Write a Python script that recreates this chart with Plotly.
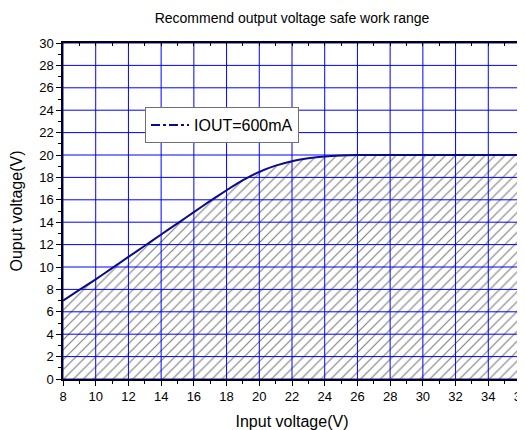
import plotly.graph_objects as go

# Data
vin = [8, 9, 10, 11, 12, 13, 14, 15, 16, 17, 18, 19, 20, 21, 22, 23, 24, 25, 26, 28, 30, 32, 34, 36]
vout = [7.0, 7.95, 8.9, 9.9, 10.9, 11.9, 12.9, 13.9, 14.9, 15.9, 16.85, 17.75, 18.5, 19.05,
        19.45, 19.7, 19.87, 19.96, 20.0, 20.0, 20.0, 20.0, 20.0, 20.0]
x_ticks = [8, 10, 12, 14, 16, 18, 20, 22, 24, 26, 28, 30, 32, 34, 36]
y_ticks = [0, 2, 4, 6, 8, 10, 12, 14, 16, 18, 20, 22, 24, 26, 28, 30]
series_name = "IOUT=600mA"
title_text = "Recommend output voltage safe work range"
x_title = "Input voltage(V)"
y_title = "Ouput voltage(V)"

FONT = "Arial, Liberation Sans, sans-serif"
LINE = "#0a0a8c"
GRID = "#0000FF"
W, H = 517, 422  # page body has an 8px margin

x_rng = [x_ticks[0], x_ticks[-1]]
y_rng = [y_ticks[0], y_ticks[-1]]

# grid lines built from the tick values so they can sit above the hatching
gx, gy = [], []
for v in x_ticks:
    gx += [v, v, None]
    gy += [y_rng[0], y_rng[1], None]
for v in y_ticks:
    gx += [x_rng[0], x_rng[1], None]
    gy += [v, v, None]

fig = go.Figure()
fig.add_trace(go.Scatter(
    x=vin, y=vout, mode="none", line=dict(shape="spline", smoothing=0.6),
    fill="tozeroy", fillcolor="rgba(0,0,0,0)",
    fillpattern=dict(shape="/", fgcolor="black", bgcolor="rgba(0,0,0,0)", size=7, solidity=0.17),
    showlegend=False, hoverinfo="skip"))
fig.add_trace(go.Scatter(x=gx, y=gy, mode="lines", line=dict(color=GRID, width=1),
                         showlegend=False, hoverinfo="skip"))
fig.add_trace(go.Scatter(
    x=vin, y=vout, mode="lines", line=dict(color=LINE, width=2, shape="spline", smoothing=0.6),
    showlegend=False, hoverinfo="skip"))
fig.add_trace(go.Scatter(
    x=[None], y=[None], mode="lines", name=series_name,
    line=dict(color=LINE, width=2, dash="dashdot")))
fig.add_trace(go.Scatter(x=[None], y=[None], xaxis="x2", yaxis="y2", showlegend=False))

axis_common = dict(showline=True, linecolor="black", linewidth=1.5, automargin=False,
                   tickfont=dict(family=FONT, size=13, color="black"),
                   showgrid=False, zeroline=False,
                   ticks="outside", ticklen=5, tickwidth=1, tickcolor="black")

fig.update_layout(
    width=W, height=H,
    margin=dict(l=55, r=4, t=35, b=51, autoexpand=False),
    paper_bgcolor="white", plot_bgcolor="white",
    title=dict(text=title_text, x=284 / W, xanchor="center", y=1 - 10 / H, yanchor="middle",
               font=dict(family=FONT, size=14, color="black")),
    xaxis=dict(range=x_rng, tickvals=x_ticks, ticklabeloverflow="allow",
               minor=dict(dtick=1, ticks="outside", ticklen=3, tickcolor="black", showgrid=False),
               title=dict(text=x_title, font=dict(family=FONT, size=16, color="black"), standoff=13),
               **axis_common),
    yaxis=dict(range=y_rng, tickvals=y_ticks,
               minor=dict(dtick=1, ticks="outside", ticklen=3, tickcolor="black", showgrid=False),
               title=dict(text=y_title, font=dict(family=FONT, size=16, color="black"), standoff=14),
               **axis_common),
    xaxis2=dict(overlaying="x", side="top", anchor="y", range=x_rng, dtick=1, tick0=0,
                ticks="inside", ticklen=3, tickcolor="black", showticklabels=False, automargin=False,
                showgrid=False, zeroline=False, showline=True, linecolor="black", linewidth=1.5),
    yaxis2=dict(overlaying="y", side="right", anchor="x", range=y_rng, dtick=1, tick0=0,
                ticks="inside", ticklen=3, tickcolor="black", showticklabels=False, automargin=False,
                showgrid=False, zeroline=False, showline=True, linecolor="black", linewidth=1.5),
    legend=dict(x=(145 - 63) / 458, y=(379 - 107) / 336, xanchor="left", yanchor="top",
                bgcolor="white", bordercolor="#707070", borderwidth=1,
                font=dict(family=FONT, size=16, color="black"),
                itemwidth=38, tracegroupgap=0),
    showlegend=True,
)

fig.write_html("out.html")
